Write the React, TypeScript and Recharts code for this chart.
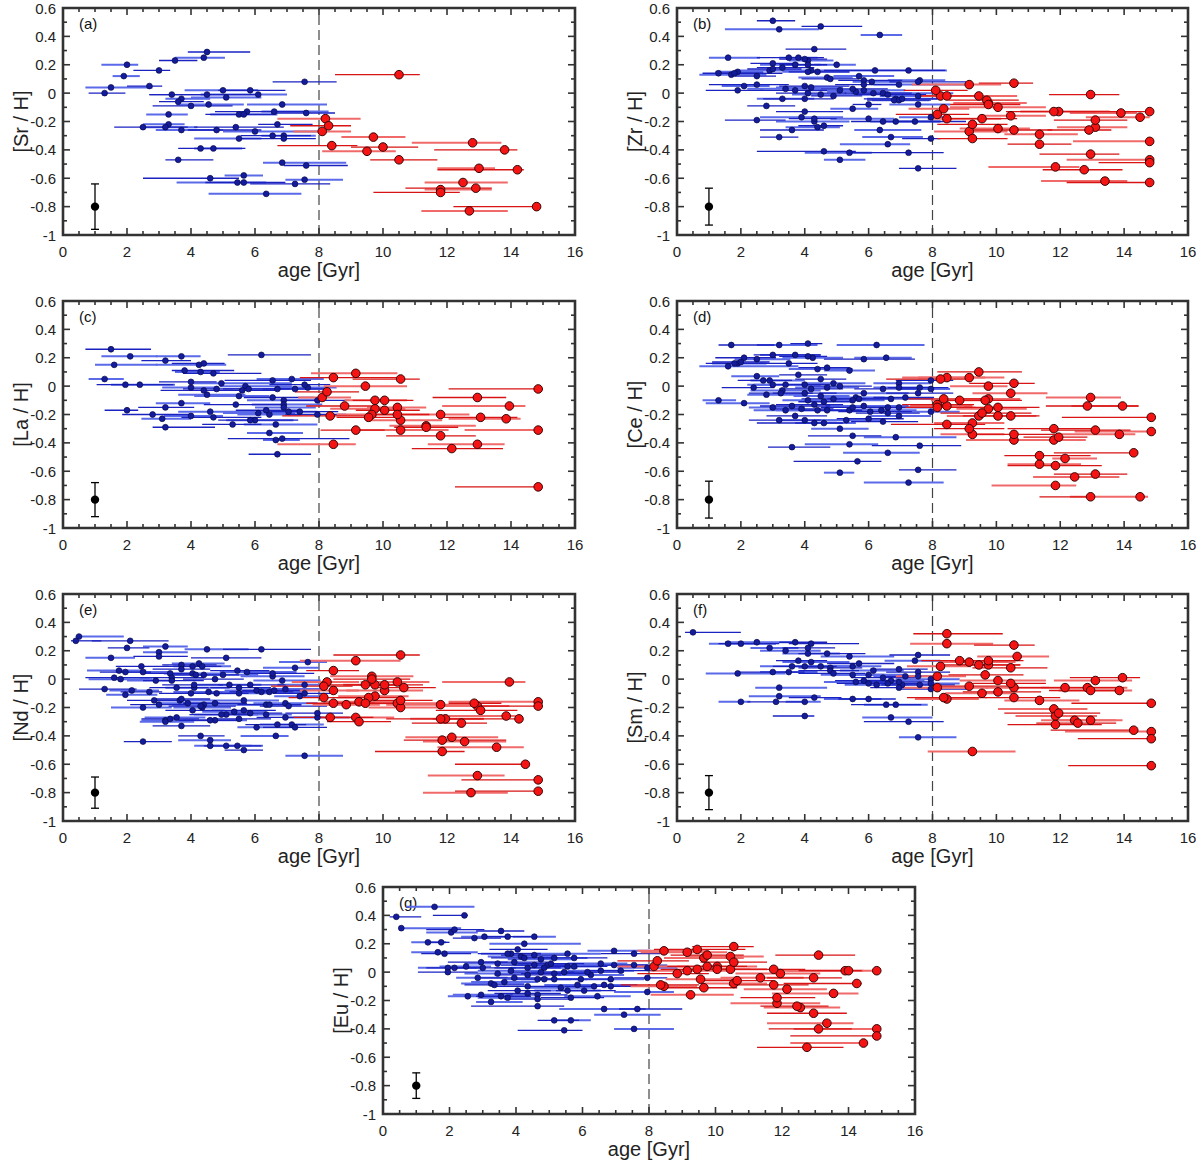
import {
  ErrorBar,
  ReferenceArea,
  ReferenceLine,
  Scatter,
  ScatterChart,
  XAxis,
  YAxis,
} from "recharts";

// [age, abundance, age error below, age error above]
type Star = [number, number, number, number];

const AGE_TICKS = [
  0, 0.5, 1, 1.5, 2, 2.5, 3, 3.5, 4, 4.5, 5, 5.5, 6, 6.5, 7, 7.5, 8, 8.5, 9,
  9.5, 10, 10.5, 11, 11.5, 12, 12.5, 13, 13.5, 14, 14.5, 15, 15.5, 16,
];
const ABUND_TICKS = [
  -1, -0.9, -0.8, -0.7, -0.6, -0.5, -0.4, -0.3, -0.2, -0.1, 0, 0.1, 0.2, 0.3,
  0.4, 0.5, 0.6,
];
const AGE_SPLIT = 8;
const REF_AGE = 1;
const REF_ABUND = -0.8;

const SR_YOUNG: Star[] = [
  [4.5, 0.29, 0.6, 1.35], [4.4, 0.25, 0.9, 0.66], [3.5, 0.23, 0.5, 0.7], [2.0, 0.2, 0.8, 0.35],
  [3.0, 0.16, 0.8, 0.35], [1.9, 0.12, 0.35, 0.5], [2.7, 0.05, 0.7, 0.4], [1.5, 0.04, 0.8, 1.3],
  [1.3, 0, 0.5, 0.65], [5.0, 0.02, 1.2, 1.1], [5.85, 0.02, 1.0, 1.1], [6.1, -0.01, 1.8, 0.9],
  [4.5, -0.01, 1.8, 1.6], [5.1, -0.03, 1.1, 1.1], [3.4, -0.01, 0.7, 1.2], [3.7, -0.04, 0.5, 0.9],
  [3.6, -0.06, 0.6, 0.8], [4.55, -0.08, 1.0, 1.1], [4.0, -0.09, 1.2, 1.3], [6.85, -0.08, 1.1, 1.4],
  [5.75, -0.13, 1.0, 1.9], [6.6, -0.13, 0.4, 1.7], [7.6, -0.14, 1.1, 0.9], [5.5, -0.15, 0.9, 1.2],
  [5.65, -0.15, 1.2, 1.0], [3.3, -0.15, 0.7, 0.6], [6.7, -0.22, 0.6, 1.1], [3.3, -0.22, 0.8, 0.5],
  [2.5, -0.24, 0.9, 1.4], [3.2, -0.24, 0.8, 1.0], [5.4, -0.24, 1.3, 1.5], [3.7, -0.26, 0.8, 1.3],
  [4.8, -0.26, 0.9, 1.4], [6.0, -0.27, 1.0, 2.0], [6.55, -0.3, 1.0, 1.2], [6.9, -0.3, 0.7, 1.0],
  [6.9, -0.32, 1.4, 1.0], [5.5, -0.32, 1.4, 0.7], [4.3, -0.39, 0.7, 1.4], [4.7, -0.39, 0.6, 0.9],
  [3.6, -0.47, 0.4, 1.1], [6.85, -0.49, 0.6, 2.0], [7.6, -0.51, 0.7, 1.3], [5.65, -0.58, 0.6, 0.6],
  [4.6, -0.6, 2.1, 0.9], [5.45, -0.63, 1.9, 0.9], [5.65, -0.63, 1.2, 1.3], [7.55, -0.61, 0.6, 1.2],
  [7.25, -0.64, 1.4, 1.1], [6.35, -0.71, 1.8, 1.1], [7.55, 0.08, 1.0, 1.0],
];
const SR_OLD: Star[] = [
  [10.5, 0.13, 2.0, 0.65], [8.2, -0.18, 1.5, 1.1], [8.3, -0.23, 1.2, 0.7], [8.1, -0.27, 0.9, 0.9],
  [8.4, -0.37, 1.7, 0.8], [9.7, -0.31, 1.0, 1.0], [10.0, -0.38, 1.0, 1.1], [9.5, -0.41, 1.4, 0.9],
  [10.5, -0.47, 0.9, 1.2], [12.8, -0.35, 1.9, 0.9], [13.8, -0.4, 2.2, 0.4], [13.0, -0.53, 1.3, 0.5],
  [14.2, -0.54, 2.5, 0.2], [12.5, -0.63, 1.2, 1.4], [12.9, -0.67, 2.2, 0.5], [11.8, -0.68, 0.5, 1.6],
  [11.8, -0.7, 2.1, 0.6], [12.7, -0.83, 1.5, 1.2], [14.8, -0.8, 2.6, 0],
];

const ZR_YOUNG: Star[] = [
  [3.0, 0.51, 0.5, 0.7], [3.2, 0.45, 1.7, 1.25], [4.5, 0.47, 0.6, 1.3], [6.35, 0.41, 0.6, 0.7],
  [4.3, 0.31, 0.9, 1.0], [1.6, 0.25, 0.6, 1.0], [3.5, 0.25, 1.0, 1.1], [3.8, 0.25, 0.6, 0.6],
  [4.0, 0.24, 0.8, 0.7], [4.1, 0.23, 0.6, 0.8], [3.0, 0.21, 0.7, 0.8], [3.7, 0.2, 1.1, 0.8],
  [4.1, 0.2, 0.9, 0.6], [5.0, 0.2, 0.7, 0.6], [3.3, 0.18, 0.8, 1.0], [2.9, 0.16, 1.0, 1.0],
  [3.0, 0.17, 0.8, 0.9], [4.2, 0.16, 0.8, 1.9], [4.4, 0.15, 0.9, 1.0], [4.1, 0.15, 0.8, 1.3],
  [6.2, 0.16, 1.6, 2.2], [7.25, 0.16, 1.2, 1.2], [1.3, 0.14, 0.5, 2.0], [1.7, 0.13, 1.0, 1.1],
  [1.8, 0.14, 0.6, 0.9], [1.9, 0.15, 0.7, 0.8], [2.5, 0.12, 0.7, 0.6], [4.7, 0.11, 0.9, 0.8],
  [4.8, 0.1, 0.9, 0.9], [5.7, 0.12, 0.8, 1.1], [5.85, 0.09, 0.8, 1.2], [6.1, 0.08, 0.6, 0.8],
  [5.85, 0.06, 0.9, 1.1], [6.95, 0.06, 0.8, 2.1], [7.55, 0.08, 0.9, 1.5], [7.6, 0.09, 1.0, 0.8],
  [2.5, 0.06, 1.5, 1.0], [2.1, 0.05, 0.7, 0.8], [4.0, 0.05, 0.8, 1.4], [4.2, 0.04, 1.1, 1.0],
  [1.9, 0.02, 1.0, 0.8], [3.4, 0.03, 1.2, 1.1], [3.7, 0.02, 1.1, 1.0], [5.1, 0.02, 1.1, 1.0],
  [5.5, 0.03, 1.0, 1.1], [5.6, 0.01, 0.9, 1.0], [4.1, 0.0, 1.0, 1.2], [4.5, -0.01, 0.9, 1.6],
  [4.9, -0.02, 0.7, 0.9], [5.85, 0.02, 0.8, 1.3], [6.15, 0, 0.9, 1.2], [6.45, 0.0, 1.0, 2.2],
  [6.6, -0.01, 1.0, 1.2], [3.3, -0.04, 0.8, 1.0], [4.0, -0.04, 1.3, 0.9], [6.85, -0.04, 0.9, 1.3],
  [6.95, -0.05, 1.0, 1.0], [6.8, -0.05, 0.7, 1.1], [7.05, -0.04, 1.2, 1.2], [7.55, -0.02, 1.2, 1.2],
  [6.0, -0.08, 0.5, 0.4], [7.55, -0.08, 0.9, 1.0], [2.8, -0.09, 0.6, 0.9], [5.5, -0.11, 0.7, 0.8],
  [4.0, -0.13, 0.9, 1.2], [3.9, -0.17, 1.3, 1.3], [4.3, -0.18, 0.8, 0.7], [6.0, -0.18, 1.2, 0.8],
  [2.5, -0.19, 1.0, 0.9], [4.3, -0.2, 1.2, 1.1], [6.45, -0.2, 1.0, 1.8], [6.85, -0.2, 0.8, 1.4],
  [7.45, -0.2, 1.1, 1.6], [7.95, -0.17, 1.0, 0.5], [4.6, -0.23, 0.8, 0.6], [4.4, -0.24, 1.0, 0.7],
  [3.6, -0.26, 1.0, 1.0], [6.35, -0.26, 0.8, 1.3], [3.2, -0.31, 0.6, 0.6], [6.7, -0.31, 0.9, 1.0],
  [7.95, -0.32, 0.9, 0.3], [6.6, -0.36, 1.5, 0.7], [4.6, -0.41, 2.1, 1.0], [5.4, -0.42, 1.4, 0.7],
  [7.25, -0.42, 1.8, 1.1], [5.1, -0.47, 0.5, 0.8], [7.55, -0.53, 0.6, 1.2],
];
const ZR_OLD: Star[] = [
  [10.55, 0.07, 1.1, 0.6], [9.15, 0.06, 1.8, 1.0], [8.1, 0.02, 1.0, 1.0], [8.25, -0.02, 0.6, 1.5],
  [8.45, -0.02, 1.0, 1.0], [9.45, -0.02, 1.1, 1.2], [9.7, -0.05, 1.2, 1.0], [9.75, -0.07, 1.1, 1.2],
  [9.75, -0.08, 1.2, 1.0], [10.05, -0.1, 1.5, 1.5], [11.8, -0.13, 1.5, 1.3], [11.95, -0.13, 1.2, 1.6],
  [12.95, -0.01, 1.3, 0.9], [13.9, -0.14, 1.6, 0.5], [14.8, -0.13, 2.5, 0], [14.5, -0.17, 1.7, 0.3],
  [13.1, -0.19, 1.3, 1.0], [13.1, -0.24, 1.2, 1.0], [12.9, -0.26, 1.3, 0.7], [8.35, -0.11, 1.1, 0.8],
  [8.15, -0.15, 1.3, 1.0], [8.45, -0.18, 0.6, 1.7], [9.55, -0.18, 1.0, 1.1], [10.45, -0.16, 0.9, 1.1],
  [9.25, -0.22, 1.1, 1.1], [9.15, -0.27, 1.1, 1.2], [9.25, -0.32, 1.1, 1.1], [10.05, -0.25, 1.2, 1.0],
  [10.55, -0.26, 1.4, 1.2], [11.35, -0.29, 1.1, 1.2], [11.35, -0.36, 1.0, 1.0], [14.8, -0.34, 2.4, 0],
  [12.95, -0.43, 1.6, 0.9], [14.8, -0.47, 2.6, 0], [14.8, -0.49, 1.6, 0], [11.85, -0.52, 2.1, 0.75],
  [12.75, -0.54, 1.3, 1.2], [13.4, -0.62, 2.0, 0.7], [14.8, -0.63, 2.6, 0],
];

const LA_YOUNG: Star[] = [
  [1.5, 0.26, 0.8, 1.25], [2.1, 0.21, 0.9, 0.85], [3.2, 0.18, 0.75, 0.8], [3.7, 0.21, 0.8, 0.6],
  [6.2, 0.22, 1.05, 1.55], [1.6, 0.15, 0.6, 1.35], [4.4, 0.16, 1.0, 0.65], [4.25, 0.15, 1.35, 0.85],
  [3.8, 0.11, 0.4, 1.55], [4.3, 0.1, 0.8, 0.6], [4.7, 0.09, 0.95, 1.5], [1.3, 0.05, 0.5, 0.6],
  [1.95, 0.01, 0.9, 1.5], [2.4, 0.01, 0.9, 1.1], [4.0, 0.03, 1.0, 0.8], [4.95, 0.02, 0.95, 2.2],
  [6.55, 0.04, 1.5, 1.2], [7.15, 0.05, 1.1, 1.0], [7.55, 0.01, 1.1, 0.8], [4.0, -0.01, 0.9, 0.85],
  [4.8, -0.02, 1.05, 0.8], [5.7, 0, 0.8, 1.45], [5.8, -0.02, 0.8, 1.3], [6.7, -0.02, 0.95, 1.6],
  [7.25, -0.02, 1.0, 1.1], [7.65, -0.01, 0.9, 0.9], [4.4, -0.03, 1.35, 0.9], [4.5, -0.06, 0.9, 1.2],
  [5.6, -0.03, 1.0, 1.1], [5.5, -0.07, 1.4, 0.95], [6.55, -0.08, 0.9, 1.3], [6.9, -0.1, 1.15, 1.1],
  [7.95, -0.1, 1.0, 1.0], [3.7, -0.12, 0.8, 0.9], [5.4, -0.13, 1.0, 1.5], [6.9, -0.13, 1.0, 1.2],
  [3.2, -0.15, 0.85, 0.9], [6.9, -0.15, 0.9, 1.0], [2.0, -0.17, 0.7, 0.35], [4.6, -0.18, 1.0, 1.4],
  [6.35, -0.17, 0.95, 1.05], [7.05, -0.18, 1.0, 0.9], [7.4, -0.18, 0.9, 1.2], [6.1, -0.19, 1.1, 1.15],
  [2.8, -0.2, 0.95, 1.2], [6.45, -0.2, 1.0, 1.0], [7.95, -0.2, 1.0, 0.9], [4.0, -0.21, 0.85, 1.0],
  [4.7, -0.22, 1.0, 1.5], [3.1, -0.23, 0.65, 0.9], [5.85, -0.24, 1.0, 1.5], [6.0, -0.24, 0.9, 1.2],
  [5.3, -0.27, 0.95, 0.9], [6.65, -0.27, 1.0, 1.3], [3.2, -0.29, 0.4, 1.55], [6.45, -0.33, 0.7, 1.05],
  [6.85, -0.37, 1.7, 2.1], [6.65, -0.38, 0.4, 0.75], [6.7, -0.48, 0.9, 1.05],
];
const LA_OLD: Star[] = [
  [8.45, 0.06, 1.05, 2.0], [9.15, 0.09, 1.4, 1.3], [10.55, 0.05, 1.5, 0.6], [9.45, 0, 1.3, 1.3],
  [8.25, -0.04, 1.0, 1.0], [8.1, -0.08, 0.75, 0.9], [8.8, -0.14, 1.2, 0.95], [9.75, -0.1, 0.95, 1.0],
  [10.05, -0.1, 1.0, 0.9], [9.75, -0.16, 1.4, 0.95], [10.05, -0.17, 0.9, 1.1], [10.45, -0.15, 0.95, 0.9],
  [10.45, -0.2, 0.9, 1.0], [9.65, -0.2, 1.1, 0.9], [9.55, -0.22, 1.0, 1.0], [10.55, -0.24, 1.0, 1.3],
  [8.35, -0.21, 1.5, 1.45], [11.8, -0.2, 1.45, 0.9], [12.95, -0.08, 1.4, 0.9], [13.95, -0.14, 2.1, 0.5],
  [13.05, -0.22, 1.2, 1.15], [13.85, -0.23, 1.8, 0.45], [14.85, -0.02, 2.8, 0], [10.55, -0.31, 1.3, 1.5],
  [9.15, -0.31, 1.1, 0.9], [11.35, -0.28, 1.15, 1.55], [11.35, -0.29, 1.0, 1.0], [14.85, -0.31, 2.3, 0],
  [11.8, -0.35, 1.7, 1.1], [12.95, -0.41, 1.55, 0.85], [12.15, -0.44, 1.25, 1.6], [8.45, -0.41, 1.75, 0.7],
  [14.85, -0.71, 2.6, 0],
];

const CE_YOUNG: Star[] = [
  [1.7, 0.29, 0.4, 1.35], [3.2, 0.29, 0.7, 1.2], [4.1, 0.3, 0.55, 0.45], [6.25, 0.29, 1.25, 1.5],
  [3.0, 0.22, 0.6, 1.5], [3.7, 0.22, 1.1, 0.8], [4.1, 0.21, 0.9, 0.6], [4.25, 0.2, 0.95, 0.95],
  [2.1, 0.2, 0.9, 1.0], [2.5, 0.19, 0.7, 1.05], [5.85, 0.19, 1.25, 1.6], [6.55, 0.2, 1.0, 0.8],
  [2.0, 0.17, 0.9, 0.9], [1.9, 0.16, 0.8, 0.9], [1.8, 0.16, 0.9, 0.9], [1.6, 0.14, 0.9, 2.2],
  [3.5, 0.16, 0.9, 0.9], [4.4, 0.12, 0.9, 1.1], [4.7, 0.13, 0.9, 0.7], [5.4, 0.11, 0.8, 0.8],
  [3.8, 0.08, 0.6, 0.9], [2.5, 0.07, 0.8, 0.7], [2.7, 0.04, 0.8, 0.9], [2.9, 0.04, 0.6, 1.1],
  [4.5, 0.05, 0.8, 0.8], [3.0, 0.01, 0.8, 1.0], [2.4, -0.01, 1.0, 0.65], [3.4, 0.01, 1.0, 1.1],
  [4.0, 0.01, 0.9, 0.8], [4.9, 0.02, 1.0, 1.0], [5.1, 0, 1.0, 1.0], [6.95, 0.02, 0.8, 1.0],
  [7.95, 0.04, 1.1, 0.7], [3.3, -0.03, 1.0, 1.2], [4.2, -0.02, 1.0, 1.0], [4.7, -0.01, 1.0, 1.0],
  [6.45, -0.02, 0.9, 1.2], [6.95, -0.01, 0.8, 1.0], [7.6, -0.01, 1.0, 0.9], [7.95, -0.02, 1.0, 0.6],
  [3.25, -0.05, 1.0, 1.0], [2.8, -0.06, 0.6, 1.2], [4.0, -0.05, 1.0, 1.0], [5.85, -0.05, 1.4, 1.4],
  [7.55, -0.05, 1.0, 1.1], [4.5, -0.07, 0.85, 0.9], [7.15, -0.08, 1.0, 0.9], [1.3, -0.1, 0.5, 0.55],
  [4.9, -0.09, 1.0, 1.0], [5.6, -0.08, 1.1, 0.9], [5.7, -0.09, 1.0, 1.0], [5.5, -0.1, 0.9, 1.0],
  [6.7, -0.09, 1.3, 1.3], [4.1, -0.1, 0.8, 1.1], [4.6, -0.11, 0.8, 0.9], [2.1, -0.12, 1.2, 0.8],
  [4.3, -0.13, 1.2, 0.9], [3.0, -0.15, 0.75, 1.0], [3.6, -0.14, 1.0, 1.2], [5.85, -0.14, 1.2, 1.4],
  [5.5, -0.15, 1.0, 1.2], [6.6, -0.15, 1.3, 1.4], [6.95, -0.15, 1.0, 1.0], [3.4, -0.17, 1.0, 1.1],
  [3.9, -0.16, 1.0, 1.0], [4.4, -0.17, 1.3, 1.3], [4.7, -0.17, 0.9, 1.1], [5.4, -0.17, 1.0, 1.0],
  [6.05, -0.18, 1.0, 1.3], [6.4, -0.17, 1.0, 1.1], [6.6, -0.19, 1.0, 1.0], [7.95, -0.18, 1.1, 0.9],
  [3.7, -0.21, 0.9, 1.0], [6.95, -0.21, 0.9, 1.0], [3.2, -0.24, 0.95, 1.3], [4.0, -0.24, 0.9, 1.0],
  [6.0, -0.23, 1.0, 1.1], [5.3, -0.24, 1.0, 1.1], [4.3, -0.26, 1.8, 0.9], [4.6, -0.26, 0.9, 1.0],
  [6.45, -0.25, 1.0, 1.1], [5.1, -0.3, 0.9, 0.9], [5.5, -0.35, 1.4, 0.9], [6.85, -0.36, 1.0, 1.9],
  [3.6, -0.43, 0.75, 1.2], [5.4, -0.41, 1.4, 0.9], [7.6, -0.42, 1.5, 1.3], [6.6, -0.47, 1.4, 1.0],
  [5.65, -0.53, 2.0, 0.75], [5.1, -0.61, 0.5, 0.45], [7.55, -0.59, 0.6, 1.2], [7.25, -0.68, 1.4, 1.1],
];
const CE_OLD: Star[] = [
  [9.45, 0.1, 1.3, 1.35], [9.15, 0.06, 2.1, 1.1], [8.25, 0.05, 1.7, 1.0], [8.45, 0.06, 0.9, 1.2],
  [10.55, 0.02, 1.4, 0.65], [9.75, 0, 1.2, 0.6], [8.35, -0.09, 1.1, 1.35], [8.85, -0.1, 0.9, 0.95],
  [8.15, -0.13, 1.1, 1.15], [8.45, -0.14, 1.15, 0.8], [8.15, -0.15, 1.0, 1.2], [10.45, -0.05, 1.2, 1.15],
  [9.65, -0.1, 1.45, 1.15], [9.75, -0.09, 1.0, 1.0], [10.05, -0.15, 1.05, 1.3], [9.75, -0.16, 1.0, 1.2],
  [9.55, -0.19, 1.3, 1.55], [9.45, -0.21, 1.0, 1.2], [10.05, -0.21, 1.1, 1.3], [10.45, -0.21, 1.2, 0.8],
  [8.45, -0.27, 1.75, 1.2], [9.25, -0.26, 1.2, 1.0], [9.15, -0.3, 1.1, 1.1], [9.25, -0.34, 1.0, 1.0],
  [10.55, -0.34, 1.4, 1.4], [10.55, -0.38, 1.5, 1.0], [11.8, -0.3, 1.45, 1.3], [11.8, -0.38, 1.1, 1.0],
  [11.95, -0.36, 1.1, 0.9], [12.95, -0.08, 1.4, 0.95], [12.85, -0.14, 1.3, 1.6], [13.95, -0.14, 1.6, 0.5],
  [13.1, -0.31, 1.7, 1.1], [13.85, -0.34, 1.9, 0.5], [14.85, -0.22, 2.8, 0], [14.85, -0.32, 2.4, 0],
  [11.35, -0.49, 1.1, 1.6], [11.35, -0.55, 1.0, 1.3], [11.85, -0.56, 1.5, 1.45], [12.15, -0.51, 0.4, 1.0],
  [14.3, -0.47, 2.5, 0.1], [12.45, -0.64, 1.3, 1.4], [13.1, -0.62, 1.3, 1.0], [11.85, -0.7, 2.0, 0.65],
  [12.95, -0.78, 1.6, 0.1], [14.5, -0.78, 2.2, 0.25],
];

const ND_YOUNG: Star[] = [
  [0.4, 0.27, 0.15, 0.8], [0.5, 0.3, 0.1, 1.4], [2.1, 0.27, 1.2, 1.2], [3.2, 0.23, 0.7, 0.7],
  [2.0, 0.22, 0.6, 0.7], [4.5, 0.21, 0.7, 1.3], [6.2, 0.21, 1.2, 1.55], [3.0, 0.19, 0.5, 0.9],
  [3.0, 0.16, 0.8, 0.9], [1.5, 0.15, 0.8, 0.75], [5.1, 0.15, 1.1, 1.1], [7.65, 0.12, 0.9, 0.6],
  [3.7, 0.1, 0.6, 1.1], [4.25, 0.11, 0.85, 0.8], [4.05, 0.09, 0.9, 0.9], [4.35, 0.09, 0.9, 0.9],
  [2.45, 0.09, 0.8, 0.85], [7.25, 0.08, 1.0, 0.75], [3.7, 0.07, 0.9, 0.9], [1.75, 0.06, 1.0, 0.85],
  [5.45, 0.06, 0.85, 1.0], [2.5, 0.05, 0.85, 0.8], [1.95, 0.05, 0.8, 0.8], [5.75, 0.05, 0.85, 1.55],
  [3.35, 0.04, 0.8, 0.75], [4.05, 0.04, 0.9, 0.9], [6.55, 0.04, 0.9, 1.3], [4.15, 0.03, 0.8, 0.8],
  [4.4, 0.03, 1.0, 1.1], [5.0, 0.03, 1.0, 1.1], [1.6, 0.01, 0.9, 1.1], [1.8, 0.0, 1.0, 1.0],
  [3.4, 0.01, 1.0, 1.0], [6.55, 0.02, 1.0, 1.0], [4.75, 0.0, 1.0, 0.9], [2.9, -0.01, 0.9, 0.6],
  [3.4, -0.01, 0.9, 1.0], [6.85, -0.01, 0.9, 1.2], [4.1, -0.04, 1.0, 0.9], [5.2, -0.04, 1.0, 1.0],
  [5.85, -0.04, 1.0, 1.1], [7.55, -0.04, 0.85, 0.8], [3.55, -0.06, 0.85, 1.0], [4.1, -0.06, 0.9, 1.1],
  [5.5, -0.06, 0.9, 1.0], [6.95, -0.07, 0.9, 1.1], [1.3, -0.07, 0.8, 1.0], [2.15, -0.08, 0.7, 0.85],
  [2.7, -0.09, 0.9, 0.4], [6.05, -0.08, 1.0, 0.95], [6.2, -0.09, 1.0, 1.0], [6.45, -0.09, 1.0, 1.0],
  [6.6, -0.08, 1.0, 1.0], [4.55, -0.09, 1.1, 1.0], [4.8, -0.1, 1.0, 1.0], [5.5, -0.1, 1.0, 1.0],
  [4.0, -0.1, 1.0, 1.0], [1.95, -0.11, 0.6, 1.0], [7.55, -0.1, 1.0, 1.0], [7.4, -0.12, 0.8, 0.7],
  [2.85, -0.15, 0.85, 1.0], [3.65, -0.15, 0.8, 1.0], [3.7, -0.14, 0.9, 0.9], [5.65, -0.15, 1.0, 1.1],
  [3.0, -0.18, 0.9, 0.9], [3.9, -0.17, 1.0, 1.0], [4.75, -0.17, 1.0, 1.0], [6.35, -0.18, 1.0, 1.1],
  [6.45, -0.18, 1.0, 1.0], [6.95, -0.17, 1.0, 1.0], [4.3, -0.19, 1.0, 1.1], [4.4, -0.18, 1.0, 1.0],
  [7.05, -0.19, 0.9, 1.2], [2.5, -0.2, 1.0, 0.9], [4.05, -0.22, 0.85, 1.0], [4.35, -0.2, 0.9, 0.9],
  [5.65, -0.22, 1.0, 1.0], [5.35, -0.23, 1.0, 1.0], [5.85, -0.24, 0.9, 1.0], [6.35, -0.25, 1.0, 0.8],
  [4.95, -0.25, 1.0, 0.95], [5.1, -0.25, 1.0, 1.0], [7.95, -0.24, 1.0, 0.8], [7.95, -0.27, 1.0, 1.0],
  [6.95, -0.27, 0.9, 1.2], [3.2, -0.29, 0.75, 0.9], [3.35, -0.28, 0.9, 0.9], [3.55, -0.27, 1.0, 0.9],
  [4.6, -0.29, 1.0, 1.0], [4.75, -0.29, 1.0, 1.0], [5.5, -0.28, 1.0, 1.0], [3.2, -0.3, 0.8, 0.9],
  [3.7, -0.33, 0.9, 0.9], [6.05, -0.34, 0.6, 1.15], [6.7, -0.32, 1.0, 0.9], [7.15, -0.32, 1.0, 1.0],
  [7.25, -0.34, 1.0, 1.0], [6.65, -0.4, 1.1, 0.4], [4.3, -0.4, 0.7, 0.75], [4.6, -0.43, 1.0, 0.65],
  [2.5, -0.44, 0.6, 0.9], [4.6, -0.47, 0.5, 1.3], [5.1, -0.47, 0.7, 1.1], [5.45, -0.47, 0.85, 0.8],
  [5.65, -0.5, 0.6, 0.6], [7.55, -0.54, 0.6, 1.2],
];
const ND_OLD: Star[] = [
  [10.55, 0.17, 2.1, 0.6], [9.15, 0.13, 1.75, 1.4], [8.45, 0.06, 0.85, 0.8], [9.65, 0.02, 1.3, 1.3],
  [9.65, 0.0, 1.2, 1.2], [10.45, -0.02, 1.15, 1.0], [10.05, -0.04, 1.25, 1.2], [10.05, -0.08, 1.2, 1.2],
  [9.45, -0.04, 1.1, 1.25], [9.75, -0.04, 1.0, 1.0], [10.65, -0.06, 1.0, 1.0], [8.25, -0.02, 1.1, 1.0],
  [8.15, -0.05, 1.65, 0.9], [8.45, -0.08, 1.05, 0.8], [8.15, -0.13, 1.1, 1.0], [9.75, -0.12, 1.15, 1.05],
  [9.55, -0.13, 1.0, 1.0], [9.25, -0.16, 1.1, 1.2], [8.45, -0.17, 0.85, 1.3], [8.85, -0.18, 1.05, 1.05],
  [9.45, -0.17, 1.1, 1.0], [10.45, -0.17, 1.15, 1.4], [10.55, -0.15, 1.0, 1.0], [10.55, -0.2, 1.0, 1.3],
  [8.35, -0.27, 1.15, 1.35], [9.15, -0.27, 1.1, 1.2], [9.25, -0.3, 1.0, 1.0], [11.8, -0.18, 1.7, 1.0],
  [12.85, -0.17, 0.8, 0.85], [12.95, -0.19, 1.3, 1.0], [13.05, -0.22, 1.4, 1.15], [14.85, -0.16, 2.8, 0],
  [14.85, -0.19, 2.1, 0], [13.95, -0.02, 2.1, 0.5], [11.8, -0.28, 1.7, 1.35], [11.95, -0.28, 1.1, 1.2],
  [12.45, -0.31, 1.55, 0.8], [13.85, -0.26, 1.8, 0.45], [14.25, -0.28, 2.7, 0.05], [12.15, -0.41, 1.45, 1.45],
  [11.85, -0.43, 1.2, 2.0], [12.55, -0.44, 1.3, 1.3], [11.85, -0.51, 2.1, 0.7], [13.55, -0.48, 1.85, 0.85],
  [14.45, -0.6, 2.2, 0], [12.95, -0.68, 1.55, 0.85], [14.85, -0.71, 2.4, 0], [12.75, -0.8, 1.5, 1.15],
  [14.85, -0.79, 2.6, 0],
];

const SM_YOUNG: Star[] = [
  [0.5, 0.33, 0.25, 1.5], [1.6, 0.25, 0.6, 1.5], [2.0, 0.25, 0.7, 1.2], [2.5, 0.26, 1.0, 1.1],
  [3.7, 0.26, 0.5, 1.0], [2.9, 0.22, 0.6, 0.9], [4.2, 0.25, 0.7, 1.5], [3.4, 0.2, 0.8, 1.1],
  [4.1, 0.22, 0.8, 0.85], [4.1, 0.18, 0.8, 1.0], [4.7, 0.18, 0.9, 1.2], [5.4, 0.16, 0.9, 1.4],
  [7.55, 0.17, 0.9, 1.0], [7.45, 0.13, 0.95, 0.8], [3.8, 0.13, 0.7, 0.9], [4.2, 0.12, 0.9, 1.2],
  [5.7, 0.11, 1.0, 1.1], [3.6, 0.09, 1.0, 0.9], [4.0, 0.09, 1.0, 1.0], [4.5, 0.09, 0.9, 0.9],
  [4.8, 0.08, 1.0, 1.0], [5.5, 0.09, 0.9, 0.9], [6.95, 0.07, 0.9, 0.9], [6.15, 0.06, 1.05, 0.95],
  [4.8, 0.06, 1.0, 0.9], [1.9, 0.04, 1.0, 1.5], [3.0, 0.05, 1.1, 1.0], [3.5, 0.05, 0.9, 0.9],
  [4.9, 0.04, 1.1, 1.0], [5.5, 0.03, 1.0, 1.0], [7.55, 0.05, 1.0, 1.0], [6.0, 0.03, 1.0, 1.1],
  [6.45, 0.01, 1.0, 1.0], [7.15, 0.02, 1.0, 1.1], [7.55, 0.02, 1.0, 0.9], [7.95, 0, 1.1, 0.9],
  [5.85, -0.01, 0.9, 1.0], [6.7, -0.01, 0.95, 1.05], [6.95, -0.02, 0.9, 1.0], [5.6, -0.02, 1.0, 1.0],
  [6.0, -0.03, 1.0, 1.0], [6.25, -0.04, 1.0, 1.0], [6.6, -0.03, 1.0, 1.0], [7.05, -0.04, 1.0, 1.0],
  [7.6, -0.04, 1.2, 1.1], [7.95, -0.03, 1.0, 0.9], [6.95, -0.06, 0.9, 1.0], [3.2, -0.06, 0.75, 1.5],
  [7.95, -0.07, 1.0, 1.1], [3.2, -0.12, 0.95, 1.3], [4.3, -0.13, 0.8, 0.85], [4.0, -0.16, 0.6, 0.5],
  [3.1, -0.16, 0.9, 1.0], [5.5, -0.14, 0.9, 0.9], [6.0, -0.14, 0.95, 0.85], [2.0, -0.16, 0.7, 0.3],
  [6.55, -0.18, 1.1, 1.1], [6.85, -0.18, 1.0, 1.0], [4.0, -0.26, 1.0, 0.3], [6.7, -0.27, 0.9, 1.3],
  [7.25, -0.3, 1.4, 1.1], [7.55, -0.41, 0.6, 1.2],
];
const SM_OLD: Star[] = [
  [8.45, 0.32, 1.05, 1.75], [8.45, 0.25, 1.15, 1.45], [10.55, 0.24, 1.25, 0.65], [10.65, 0.16, 1.25, 1.0],
  [8.85, 0.13, 1.2, 1.5], [9.15, 0.12, 0.9, 1.45], [9.75, 0.13, 1.2, 1.1], [9.75, 0.1, 1.0, 1.0],
  [9.45, 0.1, 1.2, 1.3], [8.25, 0.09, 1.05, 0.95], [10.45, 0.08, 1.2, 1.15], [8.15, 0.02, 1.3, 0.9],
  [9.65, 0.03, 1.15, 1.2], [10.05, -0.01, 1.2, 1.5], [10.45, -0.03, 1.2, 1.1], [8.15, -0.06, 1.05, 1.6],
  [9.15, -0.05, 1.15, 1.2], [10.55, -0.06, 0.9, 1.1], [10.05, -0.09, 1.1, 1.35], [9.55, -0.1, 1.15, 0.95],
  [8.35, -0.13, 1.15, 1.35], [8.45, -0.14, 1.0, 1.0], [10.55, -0.13, 0.9, 1.45], [11.35, -0.15, 1.1, 1.25],
  [12.15, -0.06, 1.6, 1.85], [12.85, -0.06, 1.45, 1.25], [12.95, -0.08, 1.3, 1.0], [13.1, -0.01, 1.3, 1.15],
  [13.95, 0.01, 1.65, 0.55], [13.85, -0.08, 1.9, 0.4], [14.85, -0.17, 2.5, 0], [11.8, -0.21, 1.75, 1.05],
  [11.95, -0.24, 1.7, 1.3], [11.85, -0.26, 1.25, 1.3], [11.85, -0.32, 1.5, 1.45], [12.45, -0.29, 1.05, 1.3],
  [12.55, -0.31, 1.3, 1.2], [12.95, -0.29, 1.2, 1.0], [14.3, -0.36, 2.6, 0.1], [14.85, -0.37, 2.7, 0],
  [14.85, -0.42, 2.3, 0], [9.25, -0.51, 1.4, 1.35], [14.85, -0.61, 2.6, 0],
];

const EU_YOUNG: Star[] = [
  [0.4, 0.39, 0.2, 0.75], [1.55, 0.46, 0.85, 1.2], [2.45, 0.4, 0.95, 0.1], [0.55, 0.31, 0.05, 1.8],
  [2.15, 0.3, 0.85, 0.9], [2.05, 0.28, 0.75, 0.8], [3.55, 0.29, 0.75, 0.7], [3.05, 0.25, 0.7, 0.7],
  [3.75, 0.25, 0.7, 0.7], [4.55, 0.25, 0.65, 0.65], [2.75, 0.24, 0.65, 0.8], [1.35, 0.21, 0.5, 0.55],
  [1.75, 0.21, 0.35, 0.25], [4.25, 0.2, 1.05, 1.7], [4.05, 0.16, 0.85, 0.9], [1.65, 0.14, 0.8, 1.2],
  [1.85, 0.13, 0.7, 0.8], [6.95, 0.15, 0.8, 1.1], [3.75, 0.13, 0.9, 1.0], [3.85, 0.13, 0.9, 0.9],
  [4.55, 0.12, 1.0, 1.0], [5.55, 0.13, 1.0, 1.0], [7.55, 0.13, 1.0, 0.8], [4.15, 0.11, 1.0, 1.0],
  [4.25, 0.1, 1.0, 1.0], [5.15, 0.1, 1.0, 1.0], [5.75, 0.1, 0.9, 1.0], [4.75, 0.09, 1.0, 1.0],
  [3.95, 0.07, 0.9, 1.0], [6.55, 0.06, 1.0, 0.8], [2.95, 0.07, 1.0, 0.8], [3.45, 0.06, 1.0, 1.0],
  [5.05, 0.06, 1.0, 1.0], [4.95, 0.05, 1.0, 1.0], [4.55, 0.05, 1.0, 1.0], [2.5, 0.04, 0.8, 0.75],
  [2.15, 0.03, 0.85, 0.85], [1.95, 0.03, 0.9, 0.9], [3.0, 0.03, 1.0, 1.0], [5.55, 0.04, 1.0, 1.0],
  [5.75, 0.04, 1.0, 1.0], [6.95, 0.05, 1.0, 1.0], [7.55, 0.05, 1.0, 1.0], [4.85, 0.03, 1.0, 1.0],
  [4.35, 0.03, 1.0, 1.0], [7.95, 0.03, 0.9, 0.9], [1.95, 0.0, 0.9, 0.9], [3.85, 0.01, 1.0, 1.0],
  [4.75, 0.0, 1.0, 1.0], [5.45, 0.0, 1.0, 1.0], [6.15, 0.0, 0.8, 1.1], [6.55, 0.01, 1.0, 1.0],
  [7.15, 0.01, 1.0, 1.0], [6.25, -0.02, 1.0, 1.0], [5.15, -0.01, 1.0, 1.0], [3.45, -0.01, 1.0, 1.0],
  [4.35, -0.02, 1.0, 1.0], [2.85, -0.04, 0.65, 0.9], [3.95, -0.04, 1.0, 1.0], [4.65, -0.05, 1.0, 1.0],
  [4.85, -0.05, 1.0, 1.0], [5.15, -0.05, 1.0, 1.0], [5.95, -0.05, 1.0, 1.0], [6.85, -0.05, 1.0, 1.0],
  [7.95, -0.04, 1.0, 0.6], [3.25, -0.08, 0.9, 1.0], [3.35, -0.09, 0.9, 0.9], [3.65, -0.07, 1.0, 1.0],
  [4.35, -0.1, 1.0, 1.0], [5.85, -0.09, 1.0, 1.0], [6.35, -0.1, 0.9, 1.0], [6.65, -0.09, 1.0, 1.0],
  [6.85, -0.1, 1.0, 1.0], [5.35, -0.11, 1.0, 1.0], [4.05, -0.13, 0.9, 1.0], [5.55, -0.13, 1.0, 1.0],
  [6.05, -0.13, 0.85, 0.95], [7.95, -0.14, 1.0, 0.8], [4.35, -0.15, 1.0, 1.0], [2.95, -0.16, 0.85, 0.95],
  [4.65, -0.16, 0.85, 0.9], [2.55, -0.17, 0.6, 1.0], [3.55, -0.17, 0.75, 0.9], [3.75, -0.18, 0.9, 0.9],
  [5.65, -0.18, 0.9, 1.0], [6.45, -0.17, 1.0, 1.0], [4.65, -0.19, 1.0, 1.0], [3.25, -0.21, 0.45, 0.95],
  [4.65, -0.24, 2.0, 0.8], [6.65, -0.26, 1.35, 1.25], [7.65, -0.26, 0.55, 1.35], [7.25, -0.3, 0.9, 1.1],
  [5.15, -0.34, 0.5, 0.75], [5.65, -0.34, 0.6, 0.6], [5.45, -0.41, 1.4, 0.55], [7.55, -0.4, 0.6, 1.2],
];
const EU_OLD: Star[] = [
  [10.55, 0.18, 1.25, 0.6], [8.45, 0.15, 0.8, 1.35], [9.45, 0.16, 1.3, 1.45], [9.15, 0.14, 1.4, 1.2],
  [9.75, 0.12, 1.1, 1.1], [9.65, 0.1, 1.2, 1.2], [8.25, 0.08, 1.2, 0.95], [10.45, 0.11, 1.25, 1.0],
  [10.55, 0.07, 1.0, 1.0], [8.15, 0.04, 1.1, 1.05], [9.75, 0.04, 1.2, 1.2], [10.05, 0.04, 1.2, 1.2],
  [10.05, 0.02, 1.0, 1.0], [10.45, 0.02, 1.1, 1.1], [9.45, 0.02, 1.1, 1.1], [9.15, 0.01, 1.1, 1.2],
  [8.85, -0.01, 1.2, 0.95], [9.55, -0.05, 1.05, 1.05], [10.65, -0.06, 1.1, 1.1], [10.55, -0.08, 1.0, 1.0],
  [8.35, -0.09, 1.2, 1.15], [8.45, -0.1, 1.0, 1.0], [9.65, -0.11, 1.15, 1.0], [9.25, -0.16, 1.2, 1.3],
  [11.75, 0.02, 1.55, 0.95], [11.95, -0.01, 1.35, 1.2], [13.1, 0.12, 1.3, 1.1], [11.35, -0.04, 1.2, 1.3],
  [12.95, -0.04, 1.4, 0.85], [13.9, 0.01, 1.9, 0.55], [14.0, 0.01, 1.5, 0.4], [14.85, 0.01, 2.7, 0],
  [11.75, -0.09, 1.35, 1.05], [12.15, -0.12, 1.3, 1.2], [14.25, -0.08, 2.2, 0.15], [13.55, -0.15, 1.85, 0.75],
  [11.85, -0.18, 1.1, 1.15], [11.85, -0.22, 1.4, 1.3], [12.45, -0.24, 1.1, 0.95], [12.55, -0.25, 1.1, 1.2],
  [12.95, -0.29, 1.4, 1.0], [13.35, -0.36, 1.8, 0.8], [13.1, -0.4, 1.5, 1.0], [14.85, -0.4, 2.5, 0],
  [14.85, -0.45, 2.6, 0], [14.45, -0.5, 2.2, 0.1], [12.75, -0.53, 1.5, 1.1],
];

// typical abundance uncertainty drawn at (1 Gyr, -0.8)
const REF_ERRORS = [0.16, 0.13, 0.12, 0.13, 0.11, 0.12, 0.09];

const PLOT_H = 227;
const AXIS_W = 70;
const TOP_PAD = 8;
const BOTTOM_PAD = 52;
const RIGHT_PAD = 16;
const FRAME = "#333";
const FONT = "'Liberation Sans', Arial, Helvetica, sans-serif";

const PANELS = [
  { tag: "(a)", title: "[Sr / H]", young: SR_YOUNG, old: SR_OLD, left: 63, top: 8, width: 512 },
  { tag: "(b)", title: "[Zr / H]", young: ZR_YOUNG, old: ZR_OLD, left: 677, top: 8, width: 511 },
  { tag: "(c)", title: "[La / H]", young: LA_YOUNG, old: LA_OLD, left: 63, top: 301, width: 512 },
  { tag: "(d)", title: "[Ce / H]", young: CE_YOUNG, old: CE_OLD, left: 677, top: 301, width: 511 },
  { tag: "(e)", title: "[Nd / H]", young: ND_YOUNG, old: ND_OLD, left: 63, top: 594, width: 512 },
  { tag: "(f)", title: "[Sm / H]", young: SM_YOUNG, old: SM_OLD, left: 677, top: 594, width: 511 },
  { tag: "(g)", title: "[Eu / H]", young: EU_YOUNG, old: EU_OLD, left: 383, top: 887, width: 532 },
];

const toRows = (stars: Star[]) =>
  stars.map(([x, y, lo, hi]) => ({ x, y, ex: [lo, hi] }));

function AgeTick(props: any) {
  const { x, y, payload, ph } = props;
  const v = payload.value;
  const major = Math.abs(v / 2 - Math.round(v / 2)) < 1e-6;
  const len = major ? 7 : 4;
  return (
    <g>
      <line x1={x} x2={x} y1={y} y2={y - len} stroke={FRAME} strokeWidth={1.6} />
      <line x1={x} x2={x} y1={y - ph} y2={y - ph + len} stroke={FRAME} strokeWidth={1.6} />
      {major && (
        <text x={x} y={y + 22} textAnchor="middle" fontSize={15} fontFamily={FONT} fill="#222">
          {v}
        </text>
      )}
    </g>
  );
}

function AbundTick(props: any) {
  const { x, y, payload, pw } = props;
  const k = Math.round(payload.value * 10);
  const major = k % 2 === 0;
  const len = major ? 7 : 4;
  return (
    <g>
      <line x1={x} x2={x + len} y1={y} y2={y} stroke={FRAME} strokeWidth={1.6} />
      <line x1={x + pw} x2={x + pw - len} y1={y} y2={y} stroke={FRAME} strokeWidth={1.6} />
      {major && (
        <text x={x - 7} y={y + 5.5} textAnchor="end" fontSize={15} fontFamily={FONT} fill="#222">
          {k === 0 ? "0" : String(k / 10)}
        </text>
      )}
    </g>
  );
}

const youngDot = (p: any) => (
  <circle cx={p.cx} cy={p.cy} r={2.9} fill="#141c9c" stroke="#070b4a" strokeWidth={0.7} />
);
const oldDot = (p: any) => (
  <circle cx={p.cx} cy={p.cy} r={4.3} fill="#f41414" stroke="#3a0505" strokeWidth={1} />
);
const refDot = (p: any) => <circle cx={p.cx} cy={p.cy} r={4.2} fill="#000" />;

function Panel({ cfg, refErr }: { cfg: (typeof PANELS)[number]; refErr: number }) {
  const pw = cfg.width;
  const young = toRows(cfg.young);
  const old = toRows(cfg.old);
  const youngA = young.filter((_, i) => i % 2 === 0);
  const youngB = young.filter((_, i) => i % 2 === 1);
  const oldA = old.filter((_, i) => i % 2 === 0);
  const oldB = old.filter((_, i) => i % 2 === 1);
  const ref = [{ x: REF_AGE, y: REF_ABUND, ey: refErr }];
  return (
    <div style={{ position: "absolute", left: cfg.left - AXIS_W, top: cfg.top - TOP_PAD }}>
      <ScatterChart
        width={AXIS_W + pw + RIGHT_PAD}
        height={TOP_PAD + PLOT_H + BOTTOM_PAD}
        margin={{ top: TOP_PAD, right: RIGHT_PAD, bottom: 0, left: 0 }}
      >
        <XAxis
          type="number"
          dataKey="x"
          domain={[0, 16]}
          allowDataOverflow
          ticks={AGE_TICKS}
          interval={0}
          height={BOTTOM_PAD}
          tickSize={0}
          tickMargin={0}
          tickLine={false}
          axisLine={false}
          tick={(p: any) => <AgeTick {...p} ph={PLOT_H} />}
          label={(p: any) => {
            const vb = p.viewBox || {};
            return (
              <text x={vb.x + vb.width / 2} y={vb.y + 42} textAnchor="middle" fontSize={20} fontFamily={FONT} fill="#222">
                age [Gyr]
              </text>
            );
          }}
        />
        <YAxis
          type="number"
          dataKey="y"
          domain={[-1, 0.6]}
          allowDataOverflow
          ticks={ABUND_TICKS}
          interval={0}
          width={AXIS_W}
          tickSize={0}
          tickMargin={0}
          tickLine={false}
          axisLine={false}
          tick={(p: any) => <AbundTick {...p} pw={pw} />}
          label={(p: any) => {
            const vb = p.viewBox || {};
            const cx = vb.x + vb.width - 42;
            const cy = vb.y + vb.height / 2;
            return (
              <text x={cx} y={cy} transform={`rotate(-90, ${cx}, ${cy})`} dy={7} textAnchor="middle" fontSize={20} fontFamily={FONT} fill="#222">
                {cfg.title}
              </text>
            );
          }}
        />
        <ReferenceLine x={AGE_SPLIT} stroke="#444" strokeWidth={1.2} strokeDasharray="10 5" />
        <Scatter data={youngB} shape={youngDot} isAnimationActive={false}>
          <ErrorBar dataKey="ex" direction="x" width={0} stroke="#5a6ae8" strokeWidth={2} />
        </Scatter>
        <Scatter data={youngA} shape={youngDot} isAnimationActive={false}>
          <ErrorBar dataKey="ex" direction="x" width={0} stroke="#1a22c0" strokeWidth={1.3} />
        </Scatter>
        <Scatter data={oldB} shape={oldDot} isAnimationActive={false}>
          <ErrorBar dataKey="ex" direction="x" width={0} stroke="#f06a6a" strokeWidth={2} />
        </Scatter>
        <Scatter data={oldA} shape={oldDot} isAnimationActive={false}>
          <ErrorBar dataKey="ex" direction="x" width={0} stroke="#d81414" strokeWidth={1.3} />
        </Scatter>
        <Scatter data={ref} shape={refDot} isAnimationActive={false}>
          <ErrorBar dataKey="ey" direction="y" width={4} stroke="#000" strokeWidth={1.3} />
        </Scatter>
        <ReferenceArea
          x1={0}
          x2={16}
          y1={-1}
          y2={0.6}
          fill="none"
          stroke={FRAME}
          strokeWidth={2.6}
          label={(p: any) => {
            const vb = p.viewBox || {};
            return (
              <text x={vb.x + 16} y={vb.y + 21} fontSize={15} fontFamily={FONT} fill="#111">
                {cfg.tag}
              </text>
            );
          }}
        />
      </ScatterChart>
    </div>
  );
}

export default function App() {
  return (
    <div style={{ position: "absolute", left: 0, top: 0, width: 1200, height: 1176, background: "#fff" }}>
      {PANELS.map((cfg, i) => (
        <Panel key={cfg.tag} cfg={cfg} refErr={REF_ERRORS[i]} />
      ))}
    </div>
  );
}
